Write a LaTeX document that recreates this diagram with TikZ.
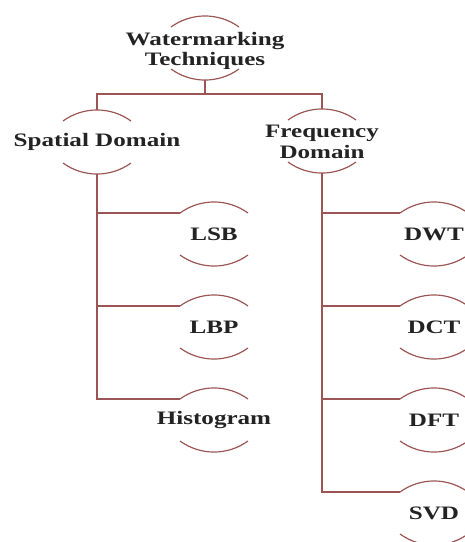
\documentclass[tikz,border=0pt]{standalone}
\usepackage{fontspec}
\newfontfamily\lblfont[FakeStretch=1.32]{Liberation Serif}
\definecolor{linec}{RGB}{155,85,85}
\definecolor{txtc}{RGB}{35,35,35}
\tikzset{
  lbl/.style={align=center, text=txtc, inner sep=0pt,
    font=\lblfont\bfseries\fontsize{19}{20.5}\selectfont},
  arcline/.style={draw=linec, line width=1.2pt},
  conn/.style={draw=linec, line width=1.2pt},
}
\newcommand\capsarcs[2]{%
  \draw[arcline] ([shift={(-34,-21)}]#2) .. controls ([shift={(-13.7,-35.7)}]#2) and ([shift={(13.7,-35.7)}]#2) .. ([shift={(34,-21)}]#2);
  \draw[arcline] ([shift={(-34,21)}]#2) .. controls ([shift={(-13.7,35.7)}]#2) and ([shift={(13.7,35.7)}]#2) .. ([shift={(34,21)}]#2);
  \coordinate (#1-t) at ([shift={(0,-32)}]#2);
  \coordinate (#1-b) at ([shift={(0,32)}]#2);
  \coordinate (#1-l) at ([shift={(-34,-21)}]#2);
}
\begin{document}
\begin{tikzpicture}[x=1pt,y=-1pt]
\useasboundingbox (0,0) rectangle (465,542);
\clip (0,0) rectangle (465,542);
\node[lbl] (wm) at (205,51) {Watermarking\\Techniques};
\node[lbl] (sd) at (97,142) {Spatial Domain};
\node[lbl] (fd) at (322,142) {Frequency\\Domain};
\node[lbl] (lsb) at (214,234) {LSB};
\node[lbl] (lbp) at (214,327) {LBP};
\node[lbl] (hist) at (214,420) {Histogram};
\node[lbl] (dwt) at (434,234) {DWT};
\node[lbl] (dct) at (434,327) {DCT};
\node[lbl] (dft) at (434,420) {DFT};
\node[lbl] (svd) at (434,513) {SVD};
\capsarcs{wm}{205,48}
\capsarcs{sd}{sd.center}
\capsarcs{fd}{322,141}
\foreach \n in {lsb,lbp,hist,dwt,dct,dft,svd} {\capsarcs{\n}{\n.center}}
\coordinate (split) at (205,94);
\draw[conn] (wm-b) -- (split);
\draw[conn] (sd-t) -- (sd-t |- split) -- (fd-t |- split) -- (fd-t);
\foreach \c in {lsb,lbp,hist} {\draw[conn] (sd-b) |- (\c-l);}
\foreach \c in {dwt,dct,dft,svd} {\draw[conn] (fd-b) |- (\c-l);}
\end{tikzpicture}
\end{document}
